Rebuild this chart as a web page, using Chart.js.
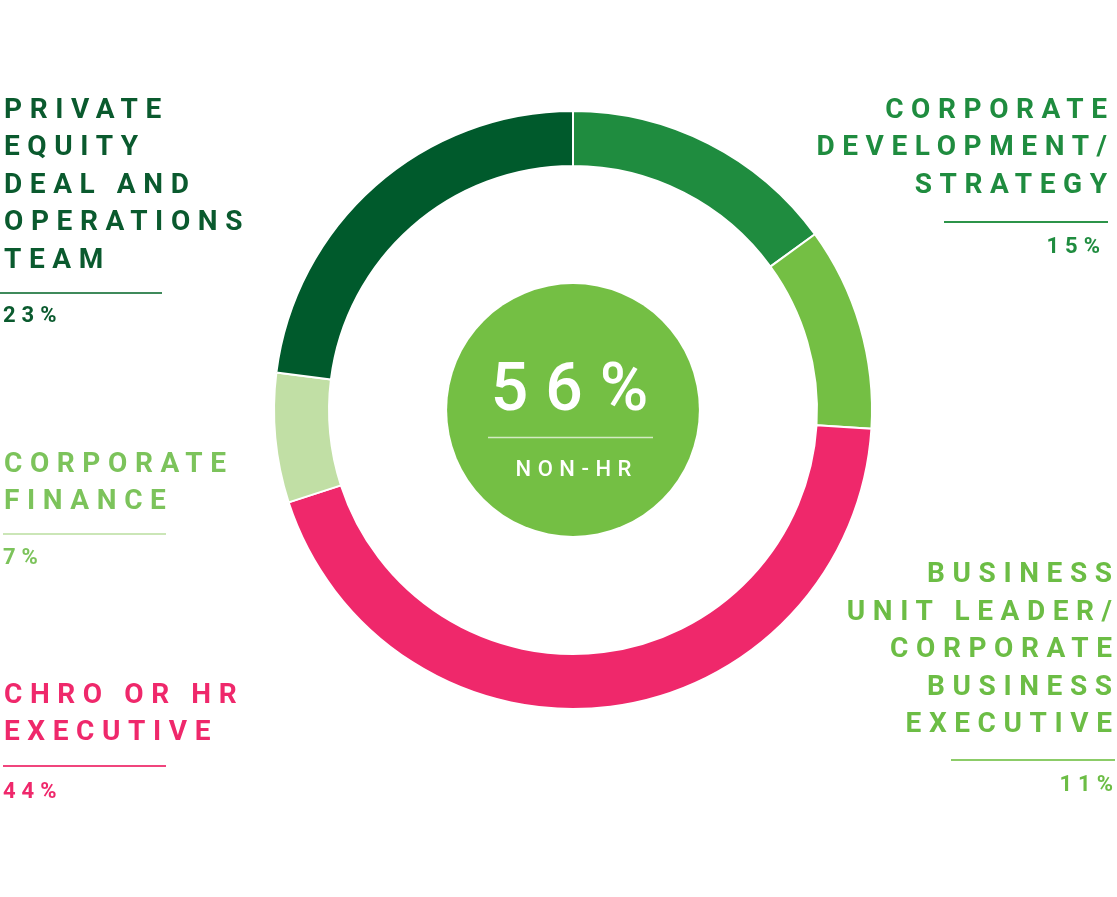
<!DOCTYPE html>
<html><head><meta charset="utf-8">
<script src="https://cdn.jsdelivr.net/npm/chart.js@4"></script>
<style>
html,body{margin:0;padding:0;background:#fff;}
#wrap{position:relative;width:1117px;height:897px;overflow:hidden;}
#wrap canvas{position:absolute;left:0;top:0;}
.t{position:absolute;font-family:Roboto,"Liberation Sans",sans-serif;font-weight:700;white-space:nowrap;}
.lbl{font-size:28px;line-height:37.5px;letter-spacing:7.6px;}
.pct{font-size:22px;line-height:24px;letter-spacing:6px;}
.rule{position:absolute;height:1.6px;}
</style></head>
<body>
<div id="wrap"><canvas id="c" width="1117" height="897"></canvas></div>
<script>
// ---- data ----
const categories = [
  "CORPORATE\nDEVELOPMENT/\nSTRATEGY",
  "BUSINESS\nUNIT LEADER/\nCORPORATE\nBUSINESS\nEXECUTIVE",
  "CHRO OR HR\nEXECUTIVE",
  "CORPORATE\nFINANCE",
  "PRIVATE\nEQUITY\nDEAL AND\nOPERATIONS\nTEAM"
];
const values = [15, 11, 44, 7, 23];
const valueLabels = ["15%", "11%", "44%", "7%", "23%"];
const centerValue = "56%";
const centerLabel = "NON-HR";

// ---- styles ----
const segColors = ["#1f8c3f", "#74bf44", "#ef286b", "#c1dfa5", "#005a2c"];
const textColors = ["#1f8c3f", "#6cbd45", "#ef286b", "#7cc35b", "#0a5a2e"];
const ruleColors = ["#2c9449", "#8ccc68", "#f0457d", "#cbe6b7", "#3f8a5b"];
const centerColor = "#74bf44";
const LS = 7.6;

// layout: side, first-line cap center y, rule y, rule x1, x2, pct center y, edge x
const layout = [
  {side:"right", y:108, ruleY:222, rx1:944, rx2:1108, pctY:246, edge:1107, pctEdge:1100},
  {side:"right", y:572.5, ruleY:760, rx1:951, rx2:1115, pctY:784, edge:1112, pctEdge:1113},
  {side:"left", y:693, ruleY:766, rx1:3, rx2:166, pctY:791, edge:4, pctEdge:3},
  {side:"left", y:462, ruleY:534, rx1:3, rx2:166, pctY:556.5, edge:4, pctEdge:3},
  {side:"left", y:108, ruleY:293, rx1:0, rx2:162, pctY:315, edge:4, pctEdge:3}
];

const wrap = document.getElementById('wrap');
function add(cls, text, css){
  const d = document.createElement('div');
  d.className = cls; d.textContent = text;
  Object.assign(d.style, css); wrap.appendChild(d); return d;
}

categories.forEach((cat, i) => {
  const L = layout[i];
  const lines = cat.split("\n");
  lines.forEach((ln, k) => {
    const css = {top:(L.y + k*37.5 - 18.5)+"px", color:textColors[i]};
    if (L.side === "left") css.left = L.edge + "px";
    else { css.right = (1117 - L.edge - LS) + "px"; }
    add("t lbl", ln, css);
  });
  const r = document.createElement('div');
  r.className = "rule";
  Object.assign(r.style, {left:L.rx1+"px", width:(L.rx2-L.rx1)+"px", top:(L.ruleY-0.8)+"px", background:ruleColors[i]});
  wrap.appendChild(r);
  const pcss = {top:(L.pctY - 11.7)+"px", color:textColors[i]};
  if (L.side === "left") pcss.left = L.pctEdge + "px";
  else pcss.right = (1117 - L.pctEdge - 6) + "px";
  add("t pct", valueLabels[i], pcss);
});

const centerPlugin = {
  id: 'centerCircle',
  afterDatasetsDraw(chart){
    const arc = chart.getDatasetMeta(0).data[0];
    if (!arc) return;
    const {x, y, innerRadius} = arc.getProps(['x','y','innerRadius'], true);
    const ctx = chart.ctx;
    ctx.save();
    ctx.beginPath();
    ctx.arc(x, y, innerRadius * 0.516, 0, Math.PI * 2);
    ctx.fillStyle = centerColor;
    ctx.fill();
    ctx.beginPath();
    ctx.moveTo(x - 85, y + 27.5);
    ctx.lineTo(x + 80, y + 27.5);
    ctx.lineWidth = 1.6;
    ctx.strokeStyle = "#d3ebc3";
    ctx.stroke();
    ctx.restore();
  }
};

new Chart(document.getElementById('c'), {
  type: 'doughnut',
  data: {
    labels: categories.map(c => c.replace(/\n/g, ' ')),
    datasets: [{
      data: values,
      backgroundColor: segColors,
      borderColor: "#ffffff",
      borderWidth: 2,
      hoverOffset: 0
    }]
  },
  options: {
    responsive: false,
    animation: false,
    radius: 299,
    cutout: '81.6%',
    rotation: 0,
    layout: {padding: {left: 29, right: 0, top: 0, bottom: 77}},
    plugins: {legend: {display: false}, tooltip: {enabled: false}}
  },
  plugins: [centerPlugin]
});

add("t", centerValue, {left:"11px", width:"1117px", textAlign:"center", top:"352.5px", fontSize:"66px", lineHeight:"70px", letterSpacing:"17px", textIndent:"17px", color:"#ffffff", fontWeight:"500"});
add("t", centerLabel, {left:"15px", width:"1117px", textAlign:"center", top:"457px", fontSize:"22px", lineHeight:"24px", letterSpacing:"6.5px", textIndent:"6.5px", color:"#ffffff", fontWeight:"500"});
</script>
</body></html>
